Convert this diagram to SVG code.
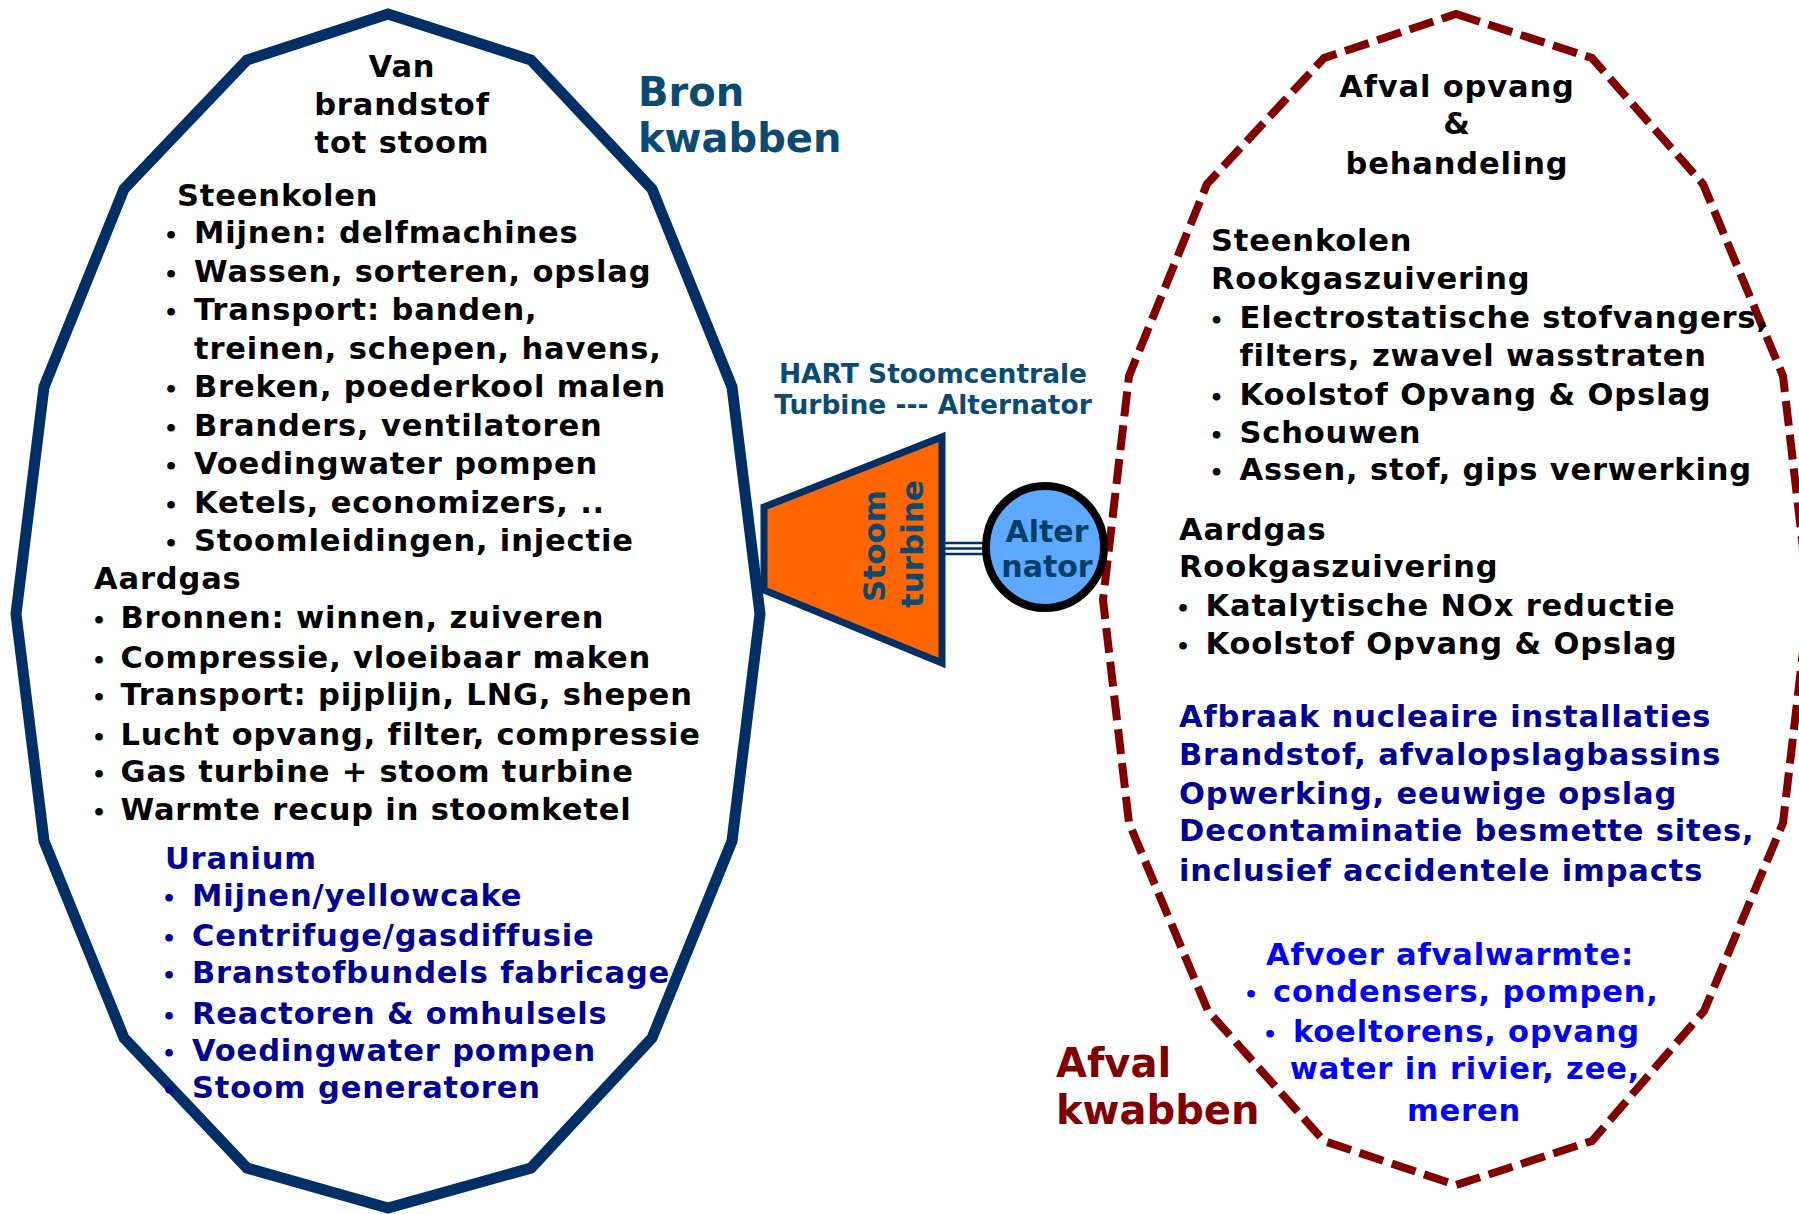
<svg xmlns="http://www.w3.org/2000/svg" width="1799" height="1214" viewBox="0 0 1799 1214">
<style>
text{font-family:"DejaVu Sans",Verdana,sans-serif;font-weight:bold}
.t{font-size:30.5px;letter-spacing:0.85px;fill:#000}
.bu{font-size:22px;fill:#000;text-anchor:middle}
.nv{fill:#000096}
.bl{fill:#0000ff}
.c{text-anchor:middle}
.big{font-size:40px}
.teal{fill:#0b4a72}
.lobeL{fill:#fff;stroke:#002f66;stroke-width:11;stroke-linejoin:miter}
.lobeR{fill:none;stroke:#800000;stroke-width:8;stroke-dasharray:25 9}
.shaft{stroke:#002f66;stroke-width:2.6}
</style>
<rect width="1799" height="1214" fill="#fff"/>

<g id="lobe-bron">
<polygon class="lobeL" points="388,14 531,60 652,189 732,387 760,614 732,841 652,1038 531,1168 388,1208 247,1168 124,1038 44,841 16,614 44,387 124,189 247,60"/>
<text class="t c" x="402" y="77">Van</text>
<text class="t c" x="402" y="115">brandstof</text>
<text class="t c" x="402" y="153">tot stoom</text>
<text class="t" x="177" y="206">Steenkolen</text>
<text class="bu" x="171" y="243">•</text><text class="t" x="194" y="243">Mijnen: delfmachines</text>
<text class="bu" x="171" y="281.5">•</text><text class="t" x="194" y="281.5">Wassen, sorteren, opslag</text>
<text class="bu" x="171" y="320">•</text><text class="t" x="194" y="320">Transport: banden,</text>
<text class="t" x="194" y="358.5">treinen, schepen, havens,</text>
<text class="bu" x="171" y="397">•</text><text class="t" x="194" y="397">Breken, poederkool malen</text>
<text class="bu" x="171" y="435.5">•</text><text class="t" x="194" y="435.5">Branders, ventilatoren</text>
<text class="bu" x="171" y="474">•</text><text class="t" x="194" y="474">Voedingwater pompen</text>
<text class="bu" x="171" y="512.5">•</text><text class="t" x="194" y="512.5">Ketels, economizers, ..</text>
<text class="bu" x="171" y="551">•</text><text class="t" x="194" y="551">Stoomleidingen, injectie</text>
<text class="t" x="94" y="589">Aardgas</text>
<text class="bu" x="99" y="628">•</text><text class="t" x="120.5" y="628">Bronnen: winnen, zuiveren</text>
<text class="bu" x="99" y="668">•</text><text class="t" x="120.5" y="668">Compressie, vloeibaar maken</text>
<text class="bu" x="99" y="705">•</text><text class="t" x="120.5" y="705">Transport: pijplijn, LNG, shepen</text>
<text class="bu" x="99" y="745">•</text><text class="t" x="120.5" y="745">Lucht opvang, filter, compressie</text>
<text class="bu" x="99" y="782">•</text><text class="t" x="120.5" y="782">Gas turbine + stoom turbine</text>
<text class="bu" x="99" y="820">•</text><text class="t" x="120.5" y="820">Warmte recup in stoomketel</text>
<text class="t nv" x="165" y="869">Uranium</text>
<text class="bu nv" x="169" y="906">•</text><text class="t nv" x="192" y="906">Mijnen/yellowcake</text>
<text class="bu nv" x="169" y="946">•</text><text class="t nv" x="192" y="946">Centrifuge/gasdiffusie</text>
<text class="bu nv" x="169" y="983">•</text><text class="t nv" x="192" y="983">Branstofbundels fabricage</text>
<text class="bu nv" x="169" y="1024">•</text><text class="t nv" x="192" y="1024">Reactoren &amp; omhulsels</text>
<text class="bu nv" x="169" y="1061">•</text><text class="t nv" x="192" y="1061">Voedingwater pompen</text>
<text class="bu nv" x="169" y="1098">•</text><text class="t nv" x="192" y="1098">Stoom generatoren</text>
</g>

<g id="label-bron">
<text class="big teal" x="638" y="106">Bron</text>
<text class="big teal" x="638" y="152">kwabben</text>
</g>

<g id="label-hart">
<text class="teal c" x="933" y="383" font-size="26.5">HART Stoomcentrale</text>
<text class="teal c" x="933" y="414" font-size="26.5">Turbine --- Alternator</text>
</g>

<g id="lobe-afval">
<polygon class="lobeR" points="1456,14 1592,58 1703,184 1783,376 1809,600 1783,823 1704,1011 1592,1141 1456,1185 1324,1141 1208,1011 1129,823 1103,600 1129,376 1207,184 1324,58"/>
<text class="t c" x="1457" y="97">Afval opvang</text>
<text class="t c" x="1457" y="134">&amp;</text>
<text class="t c" x="1457" y="174">behandeling</text>
<text class="t" x="1211" y="251">Steenkolen</text>
<text class="t" x="1211" y="289">Rookgaszuivering</text>
<text class="bu" x="1216.5" y="328">•</text><text class="t" x="1239.5" y="328">Electrostatische stofvangers,</text>
<text class="t" x="1239.5" y="366">filters, zwavel wasstraten</text>
<text class="bu" x="1216.5" y="405">•</text><text class="t" x="1239.5" y="405">Koolstof Opvang &amp; Opslag</text>
<text class="bu" x="1216.5" y="443">•</text><text class="t" x="1239.5" y="443">Schouwen</text>
<text class="bu" x="1216.5" y="480">•</text><text class="t" x="1239.5" y="480">Assen, stof, gips verwerking</text>
<text class="t" x="1179" y="540">Aardgas</text>
<text class="t" x="1179" y="577">Rookgaszuivering</text>
<text class="bu" x="1183" y="616">•</text><text class="t" x="1205.5" y="616">Katalytische NOx reductie</text>
<text class="bu" x="1183" y="654">•</text><text class="t" x="1205.5" y="654">Koolstof Opvang &amp; Opslag</text>
<text class="t nv" x="1179" y="727">Afbraak nucleaire installaties</text>
<text class="t nv" x="1179" y="765">Brandstof, afvalopslagbassins</text>
<text class="t nv" x="1179" y="804">Opwerking, eeuwige opslag</text>
<text class="t nv" x="1179" y="841">Decontaminatie besmette sites,</text>
<text class="t nv" x="1179" y="881">inclusief accidentele impacts</text>
<text class="t bl c" x="1450" y="965">Afvoer afvalwarmte:</text>
<text class="bu bl" x="1251" y="1002">•</text><text class="t bl" x="1273" y="1002">condensers, pompen,</text>
<text class="bu bl" x="1270" y="1042">•</text><text class="t bl" x="1293" y="1042">koeltorens, opvang</text>
<text class="t bl c" x="1465" y="1079">water in rivier, zee,</text>
<text class="t bl c" x="1464" y="1121">meren</text>
</g>

<g id="label-afval">
<text class="big" x="1056" y="1077" fill="#800000">Afval</text>
<text class="big" x="1056" y="1124" fill="#800000">kwabben</text>
</g>

<g id="connectors">
<line class="shaft" x1="945" y1="543" x2="988" y2="543"/>
<line class="shaft" x1="945" y1="548.5" x2="988" y2="548.5"/>
<line class="shaft" x1="945" y1="554" x2="988" y2="554"/>
</g>

<g id="stoom-turbine">
<polygon points="764,507 942,437 942,663 764,590" fill="#ff6600" stroke="#002f66" stroke-width="7"/>
<text class="teal c" font-size="31" transform="translate(885,546) rotate(-90)">Stoom</text>
<text class="teal c" font-size="31" transform="translate(923,544) rotate(-90)">turbine</text>
</g>

<g id="alternator">
<ellipse cx="1045" cy="547" rx="59" ry="61" fill="#5ea8ff" stroke="#000" stroke-width="8"/>
<text class="c" font-size="30" fill="#003f6a" x="1047" y="542">Alter</text>
<text class="c" font-size="30" fill="#003f6a" x="1047" y="577">nator</text>
</g>
</svg>
